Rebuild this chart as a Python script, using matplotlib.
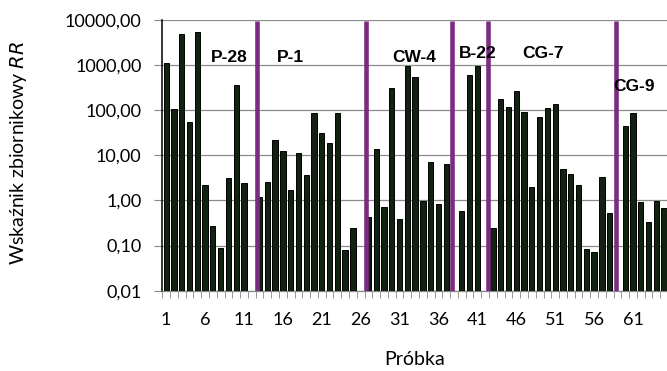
import matplotlib
matplotlib.use('Agg')
import matplotlib.pyplot as plt
import numpy as np
from matplotlib.ticker import FixedLocator, NullLocator

plt.rcParams['font.family'] = 'Lato'

# wartosci RR dla kolejnych probek (None = brak slupka)
rr_values = [1100, 105, 4800, 55, 5500, 2.2, 0.27, 0.09, 3.2, 370,
             2.4, None, 1.2, 2.6, 22, 12.2, 1.72, 11.5, 3.6, 86,
             31, 18.6, 89, 0.078, 0.25, None, 0.42, 14.1, 0.71, 310,
             0.39, 960, 560, 0.97, 7.1, 0.84, 6.6, None, 0.59, 620,
             960, None, 0.24, 175, 120, 270, 92, 1.97, 72, 110,
             140, 4.9, 3.96, 2.2, 0.085, 0.072, 3.4, 0.54, None, 45,
             89, 0.92, 0.33, 0.97, 0.67]
samples = np.arange(1, len(rr_values) + 1)

group_names = ['P-28', 'P-1', 'CW-4', 'B-22', 'CG-7', 'CG-9']
group_boundaries = [12.63, 26.64, 37.8, 42.36, 58.85]

y_ticks = [0.01, 0.1, 1, 10, 100, 1000, 10000]
y_tick_labels = ['0,01', '0,10', '1,00', '10,00', '100,00', '1000,00', '10000,00']
x_ticks = list(range(1, 62, 5))

vals = np.array([np.nan if v is None else v for v in rr_values], dtype=float)

fig = plt.figure(figsize=(6.67, 3.71), dpi=100)
ax = fig.add_axes([0.2433, 0.2164, 0.7582, 0.7296])

ax.set_yscale('log')
ax.bar(samples, vals, width=0.68, color='#112211', edgecolor='black', linewidth=0.7, zorder=3)

for b in group_boundaries:
    ax.plot([b, b], [0.01, 9500], color='#7b2c80', linewidth=3.3, solid_capstyle='butt', zorder=4)

# etykiety grup
label_pos = [(9.14, 10 ** 3.16), (16.95, 10 ** 3.17), (32.85, 10 ** 3.16),
             (41.0, 10 ** 3.25), (49.4, 10 ** 3.25), (61.1, 10 ** 2.52)]
for name, (lx, ly) in zip(group_names, label_pos):
    ax.text(lx, ly, name, ha='center', va='center', fontsize=12.5, fontweight='bold',
            family='Liberation Sans', zorder=5)

ax.set_xlim(0.5, 65.5)
ax.set_ylim(0.01, 10000)

ax.yaxis.set_major_locator(FixedLocator(y_ticks))
ax.yaxis.set_minor_locator(NullLocator())
ax.set_yticklabels(y_tick_labels)
ax.set_xticks(x_ticks)
ax.set_xticklabels([str(t) for t in x_ticks])
ax.xaxis.set_minor_locator(FixedLocator(np.arange(0.5, 66, 1)))

ax.tick_params(axis='y', which='major', length=6, color='#888888', labelsize=13, pad=9)
ax.tick_params(axis='x', which='major', length=0, labelsize=13, pad=15)
ax.tick_params(axis='x', which='minor', length=5, color='#888888')

ax.grid(axis='y', color='#8c8c8c', linewidth=0.9, zorder=0)
ax.set_axisbelow(True)
for s in ['top', 'right']:
    ax.spines[s].set_visible(False)
ax.spines['left'].set_color('black')
ax.spines['left'].set_linewidth(1.1)
ax.spines['bottom'].set_color('#888888')
ax.spines['bottom'].set_linewidth(0.9)

fig.text(0.027, 0.588, 'Wskaźnik zbiornikowy $\\mathit{RR}$', rotation=90, ha='center', va='center',
         fontsize=14)
fig.text(0.622, 0.03, 'Próbka', ha='center', va='center', fontsize=14)

fig.savefig('out.png', dpi=100)
